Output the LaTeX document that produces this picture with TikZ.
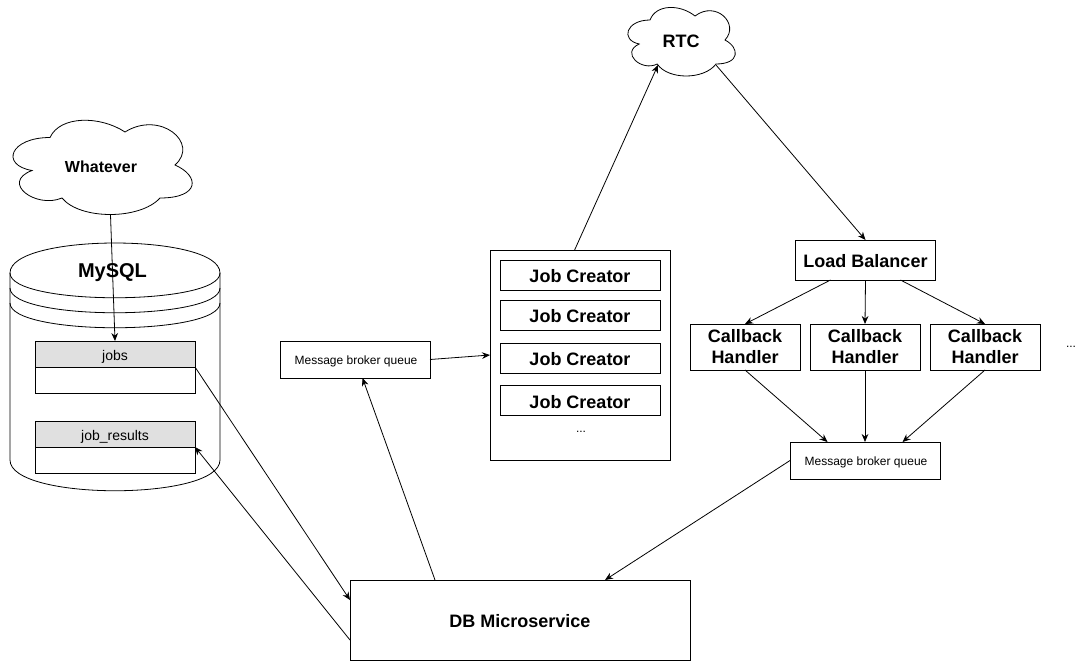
\documentclass[tikz,border=0pt]{standalone}
\usepackage{fontspec}
\setmainfont{Liberation Sans}
\usetikzlibrary{calc,arrows.meta}
\tikzset{
  plainbox/.style={draw,minimum width=#1*0.75pt,inner sep=0pt,outer sep=0pt,align=center},
  titlefont/.style={font=\fontsize{13.5}{15.75}\selectfont\bfseries},
  titleline/.style={titlefont,text height=11.3pt,text depth=0pt},
  smallfont/.style={font=\fontsize{9}{11}\selectfont},
  queuefont/.style={smallfont,text height=7.6pt,text depth=0pt},
  headfont/.style={font=\fontsize{10.5}{12}\selectfont,text height=9.6pt,text depth=0pt},
  cloudpic/.pic={
    \draw[fill=white] (0.25,0.25) .. controls (0.05,0.25) and (0,0.5) .. (0.16,0.55)
      .. controls (0,0.66) and (0.18,0.9) .. (0.31,0.8)
      .. controls (0.4,1) and (0.7,1) .. (0.8,0.8)
      .. controls (1,0.8) and (1,0.6) .. (0.875,0.5)
      .. controls (1,0.3) and (0.8,0) .. (0.625,0.2)
      .. controls (0.5,0.05) and (0.3,0.05) .. (0.25,0.25) -- cycle;
  }
}
\begin{document}
\begin{tikzpicture}[>={Stealth[length=6pt,width=5pt]},x=0.75pt,y=-0.75pt,line width=0.6pt]
    \useasboundingbox (0,0) rectangle (1091,661);

    % clouds
    \path (0,110) pic[x=150pt,y=-82.5pt] {cloudpic};
    \path (620,0) pic[x=90pt,y=-60pt] {cloudpic};
    \node[font=\fontsize{12}{14}\selectfont\bfseries] (whatever) at (101,167) {Whatever};
    \node[titlefont] (rtc) at (681,41.5) {RTC};
    \coordinate (whatever out) at (110.5,215);
    \coordinate (rtc in) at (658,65);
    \coordinate (rtc out) at (716,65);

    % database
    \draw (10,273) .. controls (10,233) and (220,233) .. (220,273)
      -- (220,460) .. controls (220,501) and (10,501) .. (10,460) -- cycle;
    \draw (10,273) .. controls (10,306) and (220,306) .. (220,273);
    \draw (10,288) .. controls (10,321) and (220,321) .. (220,288);
    \draw (10,303) .. controls (10,336) and (220,336) .. (220,303);
    \node[font=\fontsize{15}{17}\selectfont\bfseries] (mysql) at (112.5,273) {MySQL};

    \node[plainbox=160,minimum height=19.5pt,fill=black!12,headfont] (jobs) at (115,354) {jobs};
    \node[plainbox=160,minimum height=19.5pt,anchor=north] (jobs body) at (jobs.south) {};
    \node[plainbox=160,minimum height=19.5pt,fill=black!12,headfont] (results) at (115,434) {job\_results};
    \node[plainbox=160,minimum height=19.5pt,anchor=north] (results body) at (results.south) {};

    % queues and services
    \node[plainbox=150,minimum height=27.75pt,queuefont] (queue a) at (355,359.5) {\hspace{1.5pt}Message broker queue};
    \node[plainbox=150,minimum height=27.75pt,queuefont] (queue b) at (865,460.5) {\hspace{1.5pt}Message broker queue};
    \node[plainbox=340,minimum height=60pt,titleline] (db) at (520,620) {DB Microservice};

    \node[plainbox=180,minimum height=157.5pt] (creators) at (580,355) {};
    \foreach \name/\ypos in {a/275,b/315,c/358,d/400.5}
        \node[plainbox=160,minimum height=22.5pt,titleline] (job \name) at (580,\ypos) {Job Creator};
    \node[smallfont] (creators more) at (581,432) {...};

    \node[plainbox=140,minimum height=30pt,titleline] (lb) at (865.5,260) {Load Balancer};
    \foreach \name/\xpos in {a/745,b/865,c/985}
        \node[plainbox=110,minimum height=34.5pt,titlefont] (handler \name) at (\xpos,347) {Callback\\Handler};
    \node[smallfont] (handlers more) at (1071,347) {...};

    % connectors
    \draw[->] (whatever out)--(jobs.north);
    \draw[->] (jobs.south east)--($(db.north west)!0.25!(db.south west)$);
    \draw[->] ($(db.north west)!0.75!(db.south west)$)--(results.south east);
    \draw[->] ($(db.north west)!0.25!(db.north east)$)--($(queue a.south west)!0.55!(queue a.south east)$);
    \draw[->] (queue a.east)--(creators.west);
    \draw[->] ($(creators.north west)!0.47!(creators.north east)$)--(rtc in);
    \draw[->] (rtc out)--(lb.north);
    \draw[->] ($(lb.south west)!0.25!(lb.south east)$)--(handler a.north);
    \draw[->] (lb.south)--(handler b.north);
    \draw[->] ($(lb.south west)!0.75!(lb.south east)$)--(handler c.north);
    \draw[->] (handler a.south)--($(queue b.north west)!0.25!(queue b.north east)$);
    \draw[->] (handler b.south)--(queue b.north);
    \draw[->] (handler c.south)--($(queue b.north west)!0.75!(queue b.north east)$);
    \draw[->] (queue b.west)--($(db.north west)!0.75!(db.north east)$);
\end{tikzpicture}
\end{document}
